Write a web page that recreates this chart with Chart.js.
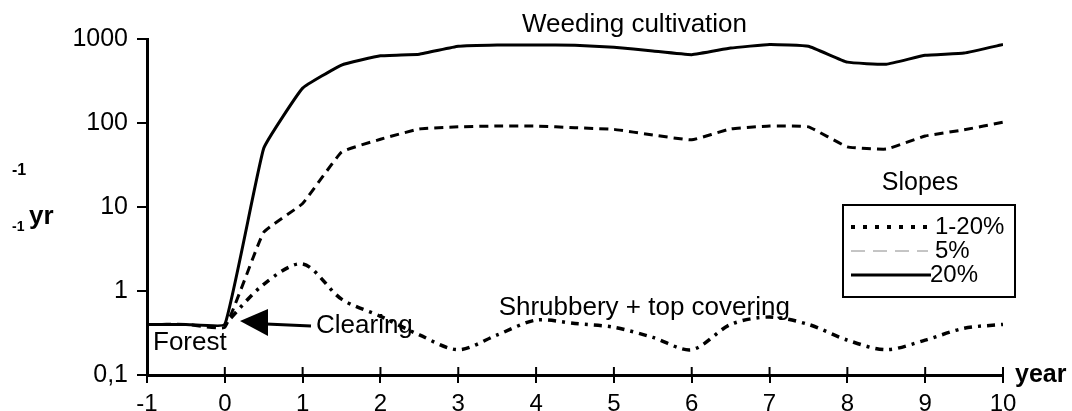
<!DOCTYPE html>
<html><head><meta charset="utf-8">
<script src="https://cdn.jsdelivr.net/npm/chart.js@4.4.1/dist/chart.umd.min.js"></script>
<style>html,body{margin:0;padding:0;background:#fff}#wrap{width:1072px;height:411px;position:relative}</style>
</head><body><div id="wrap"><canvas id="c"></canvas></div>
<script>
const years = [-1,-0.5,0,0.5,1,1.5,2,2.5,3,3.5,4,4.5,5,5.5,6,6.5,7,7.5,8,8.5,9,9.5,10];
const slope1to20 = [null,null,0.4,1.2,2.1,0.8,0.5,0.3,0.2,0.3,0.45,0.41,0.37,0.28,0.2,0.4,0.49,0.4,0.26,0.2,0.26,0.36,0.4];
const slope5 = [0.4,0.4,0.37,5,11,45,64,85,90,92,92,88,84,72,63,85,92,90,52,49,70,83,102];
const slope20 = [0.4,0.4,0.4,50,260,490,630,660,820,850,850,840,800,720,650,780,860,820,530,500,640,680,860];
const yTicks = [0.1,1,10,100,1000];
const yTickLabels = ['0,1','1','10','100','1000'];
const xTicks = [-1,0,1,2,3,4,5,6,7,8,9,10];
const seriesNames = ['1-20%','5%','20%'];

const FONT = '"Liberation Sans", Arial, sans-serif';
const pts = arr => years.map((x,i)=>({x:x,y:arr[i]}));

const decor = {
  id:'decor',
  afterDraw(chart){
    const ctx = chart.ctx, xs = chart.scales.x, ys = chart.scales.y, ca = chart.chartArea;
    ctx.save();
    ctx.strokeStyle='#000'; ctx.lineWidth=2;
    xTicks.forEach(v=>{const px=xs.getPixelForValue(v);ctx.beginPath();ctx.moveTo(px,ca.bottom-8);ctx.lineTo(px,ca.bottom);ctx.stroke();});
    ctx.fillStyle='#000';
    ctx.textBaseline='middle';
    ctx.font='26px '+FONT;
    ctx.textAlign='center';
    ctx.fillText('Weeding cultivation', xs.getPixelForValue(5.265), ca.top-14);
    ctx.fillText('Shrubbery + top covering', xs.getPixelForValue(5.39), 308);
    ctx.font='25px '+FONT;
    ctx.fillText('Slopes', 920, 183);
    ctx.textAlign='left';
    ctx.font='26px '+FONT;
    ctx.fillText('Forest', ca.left+6, 343);
    ctx.fillText('Clearing', 316, 326);
    ctx.beginPath(); ctx.moveTo(240,321); ctx.lineTo(268,309); ctx.lineTo(268,336); ctx.closePath(); ctx.fill();
    ctx.lineWidth=3; ctx.beginPath(); ctx.moveTo(266,324); ctx.lineTo(311,326); ctx.stroke();
    ctx.lineWidth=2; ctx.strokeRect(843,205,172,92);
    ctx.font='24px '+FONT;
    const ds = chart.data.datasets;
    const rows=[227,251,275];
    ds.forEach((d,i)=>{
      ctx.save();
      ctx.strokeStyle = i===1 ? '#8a8a8a' : '#000';
      ctx.lineWidth = i===0 ? 4 : (i===1 ? 1 : 3);
      ctx.setLineDash(i===0 ? [4,8] : (i===1 ? [14,8] : []));
      ctx.beginPath(); ctx.moveTo(851,rows[i]); ctx.lineTo(i===2?931:928,rows[i]); ctx.stroke();
      ctx.restore();
      ctx.fillText(d.label, i===2?930:935, rows[i]);
    });
    ctx.font='bold 25px '+FONT;
    ctx.fillText('year', 1015, 375);
    ctx.font='bold 16px '+FONT;
    ctx.fillText('-1', 12, 171);
    ctx.font='bold 14px '+FONT;
    ctx.fillText('-1', 12, 227);
    ctx.font='bold 26px '+FONT;
    ctx.fillText('yr', 29, 217);
    ctx.restore();
  }
};

new Chart(document.getElementById('c'), {
  type:'line',
  data:{datasets:[
    {label:seriesNames[0], data:pts(slope1to20), borderColor:'#000', borderWidth:3.5, borderDash:[3,6,8,6], pointRadius:0, tension:0.3},
    {label:seriesNames[1], data:pts(slope5), borderColor:'#000', borderWidth:3, borderDash:[9,6], pointRadius:0, tension:0.1},
    {label:seriesNames[2], data:pts(slope20), borderColor:'#000', borderWidth:3, pointRadius:0, tension:0.1}
  ]},
  options:{
    responsive:true, maintainAspectRatio:false, animation:false,
    layout:{padding:{top:39,right:69,left:0,bottom:0}},
    plugins:{legend:{display:false},tooltip:{enabled:false}},
    scales:{
      x:{type:'linear',min:-1,max:10,
        afterBuildTicks:s=>{s.ticks=xTicks.map(v=>({value:v}));},
        afterFit:s=>{s.height=36;},
        ticks:{color:'#000',font:{family:FONT,size:24},padding:7,maxRotation:0,autoSkip:false},
        grid:{display:true,drawOnChartArea:false,drawTicks:true,tickLength:8,color:'#000',lineWidth:2},
        border:{display:true,color:'#000',width:3}},
      y:{type:'logarithmic',min:0.1,max:1000,
        afterBuildTicks:s=>{s.ticks=yTicks.map(v=>({value:v}));},
        afterFit:s=>{s.width=147;},
        ticks:{color:'#000',font:{family:FONT,size:25},padding:9,autoSkip:false,
          callback:(v)=>{const i=yTicks.indexOf(v);return i>=0?yTickLabels[i]:'';}},
        grid:{display:true,drawOnChartArea:false,drawTicks:true,tickLength:10,color:'#000',lineWidth:2},
        border:{display:true,color:'#000',width:3}}
    }
  },
  plugins:[decor]
});
</script></body></html>
